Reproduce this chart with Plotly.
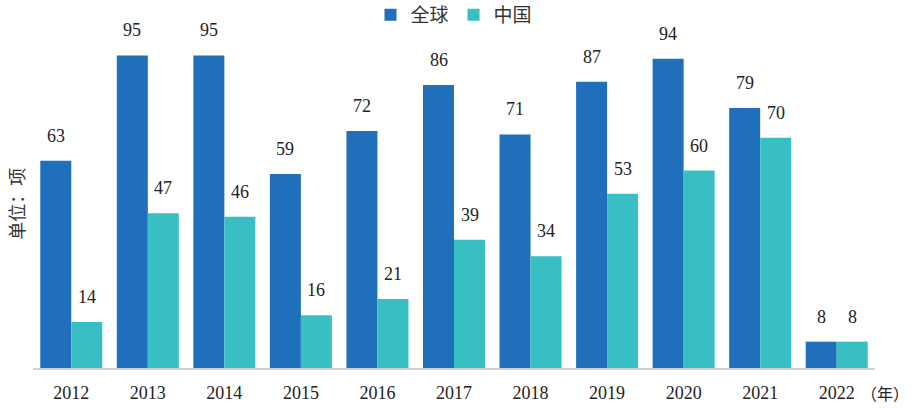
import plotly.graph_objects as go

years = ["2012", "2013", "2014", "2015", "2016", "2017", "2018", "2019", "2020", "2021", "2022"]
global_vals = [63, 95, 95, 59, 72, 86, 71, 87, 94, 79, 8]
china_vals = [14, 47, 46, 16, 21, 39, 34, 53, 60, 70, 8]
series_names = ["全球", "中国"]
colors = ["#1F6FBA", "#38BFC4"]

fig = go.Figure()
for name, vals, col in zip(series_names, [global_vals, china_vals], colors):
    fig.add_trace(go.Bar(x=years, y=vals, name=name, marker_color=col, marker_line_width=0))

serif = "Liberation Serif"
ann = []
for vals, xs in [(global_vals, -15.5), (china_vals, 15.5)]:
    for i, v in enumerate(vals):
        ann.append(dict(x=i, y=v, xref="x", yref="y", text=str(v), showarrow=False,
                        xshift=xs, yshift=13, yanchor="bottom",
                        font=dict(family=serif, size=18, color="#222")))
ann.append(dict(x=1.043, y=-0.076, xref="paper", yref="paper", text="（年）", showarrow=False,
                xanchor="right", yanchor="middle",
                font=dict(family="Noto Sans CJK SC", size=16, color="#222")))
ann.append(dict(x=-0.021, y=0.5, xref="paper", yref="paper", text="单位：项", showarrow=False,
                textangle=-90, xanchor="center", yanchor="middle",
                font=dict(family="Noto Sans CJK SC", size=18, color="#333")))

fig.update_layout(
    width=921, height=409,
    margin=dict(l=33, r=46, t=39, b=41, autoexpand=False),
    plot_bgcolor="white", paper_bgcolor="white",
    barmode="group", bargap=0.19, bargroupgap=0,
    showlegend=True,
    legend=dict(orientation="h", x=0.5, xanchor="center", y=1.073, yanchor="middle",
                font=dict(family="Noto Sans CJK SC", size=19, color="#333"),
                itemwidth=30, traceorder="normal"),
    xaxis=dict(type="category", range=[-0.5, 10.5], showline=True, linecolor="#d0d0d0",
               linewidth=1.5, ticks="", ticklabelstandoff=8,
               tickfont=dict(family=serif, size=18, color="#222"), showgrid=False),
    yaxis=dict(range=[0, 100], visible=False, showgrid=False),
    annotations=ann,
)
fig.write_html("out.html", config={"displayModeBar": False},
               post_script="document.body.style.margin='0px';")
